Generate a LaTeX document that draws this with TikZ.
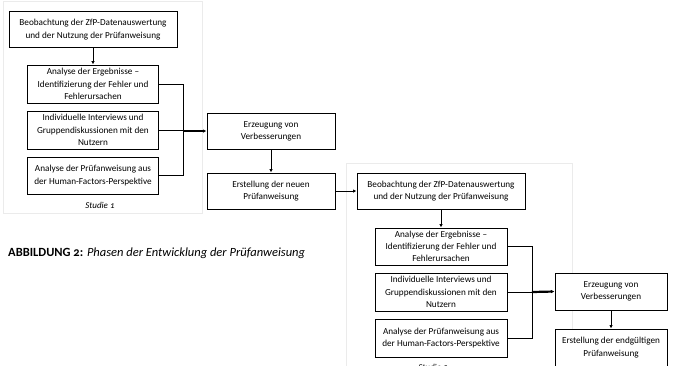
\documentclass[tikz,border=0pt]{standalone}
\usepackage{fontspec}
\setmainfont{Carlito}
\usepackage{tikz}
\usetikzlibrary{positioning,arrows.meta}

\tikzset{
	box/.style={draw,line width=0.9pt,fill=white,align=center,inner sep=0pt,
		font=\fontsize{9.2}{12.2}\selectfont},
	breit/.style={box,minimum width=168pt,minimum height=36pt},
	mittel/.style={box,minimum width=131pt,minimum height=38pt},
	schmal/.style={box,minimum width=128pt,minimum height=36pt},
	conn/.style={line width=0.8pt},
	pfeil/.style={conn,-{Latex[length=3.5pt,width=3.5pt]}},
	dickpfeil/.style={line width=2.2pt,-{Latex[length=3.5pt,width=3.5pt]}},
	rahmen/.style={draw=black!8,line width=0.8pt},
	studie/.style={font=\fontsize{9}{11}\selectfont\itshape\addfontfeatures{Numbers=OldStyle}}
}

\begin{document}
\begin{tikzpicture}[x=1pt,y=-1pt]
		
		\useasboundingbox (0,0) rectangle (683,365);
		
		% Rahmen der beiden Studien
		\draw[rahmen]
		(3,1) rectangle (202,213);
		
		\draw[rahmen]
		(346,163) rectangle (572,390);
		
		% Studie 1
		\node[breit] (beob1)
		at (93,29.5)
		{Beobachtung der ZfP-Datenauswertung\\und der Nutzung der Prüfanweisung};
		
		\node[mittel] (analyse1)
		at (93,84)
		{Analyse der Ergebnisse --\\Identifizierung der Fehler und\\Fehlerursachen};
		
		\node[mittel] (interv1)
		at (93,130)
		{Individuelle Interviews und\\Gruppendiskussionen mit den\\Nutzern};
		
		\node[mittel,minimum height=37pt] (hf1)
		at (93,175.5)
		{Analyse der Prüfanweisung aus\\der Human-Factors-Perspektive};
		
		\node[studie] (lbl1)
		at (100,205)
		{Studie 1};
		
		\node[schmal] (erz1)
		at (271,131)
		{Erzeugung von\\Verbesserungen};
		
		\node[schmal] (erst1)
		at (271,191)
		{Erstellung der neuen\\Prüfanweisung};
		
		% Studie 2
		\node[breit] (beob2)
		at (441,191)
		{Beobachtung der ZfP-Datenauswertung\\und der Nutzung der Prüfanweisung};
		
		\node[mittel,minimum width=132pt,minimum height=37pt] (analyse2)
		at (441,246.5)
		{Analyse der Ergebnisse --\\Identifizierung der Fehler und\\Fehlerursachen};
		
		\node[mittel,minimum width=132pt] (interv2)
		at (441,292)
		{Individuelle Interviews und\\Gruppendiskussionen mit den\\Nutzern};
		
		\node[mittel,minimum width=132pt] (hf2)
		at (441,338)
		{Analyse der Prüfanweisung aus\\der Human-Factors-Perspektive};
		
		\node[studie] (lbl2)
		at (433,367)
		{Studie 2};
		
		\node[schmal,minimum width=112pt,minimum height=37pt] (erz2)
		at (611,291.5)
		{Erzeugung von\\Verbesserungen};
		
		\node[schmal,minimum width=112pt,minimum height=37pt] (erst2)
		at (611,347.5)
		{Erstellung der endgültigen\\Prüfanweisung};
		
		% Bildunterschrift
		\node[anchor=west,inner sep=0pt,font=\fontsize{12.5}{14}\selectfont\addfontfeatures{Numbers=OldStyle}] (cap)
		at (8,253)
		{\textbf{ABBILDUNG 2:} \textit{Phasen der Entwicklung der Prüfanweisung}};
		
		% Klammern
		\coordinate (k1) at (183,131);
		\coordinate (k2) at (532,292);
		
		% Verbindungen
		\draw[pfeil]
		(beob1) -- (analyse1);
		
		\draw[conn]
		(analyse1.east) -- (analyse1.east -| k1)
		-- (hf1.east -| k1) -- (hf1.east);
		
		\draw[conn]
		(interv1.east) -- (interv1.east -| k1);
		
		\draw[dickpfeil]
		(k1) -- (erz1.west);
		
		\draw[pfeil]
		(erz1) -- (erst1);
		
		\draw[pfeil]
		(erst1.east) -- (beob2.west);
		
		\draw[pfeil]
		(beob2) -- (analyse2);
		
		\draw[conn]
		(analyse2.east) -- (analyse2.east -| k2)
		-- (hf2.east -| k2) -- (hf2.east);
		
		\draw[conn]
		(interv2.east) -- (k2);
		
		\draw[dickpfeil]
		(k2) -- (erz2.west);
		
		\draw[pfeil]
		(erz2) -- (erst2);
		
	\end{tikzpicture}
\end{document}
